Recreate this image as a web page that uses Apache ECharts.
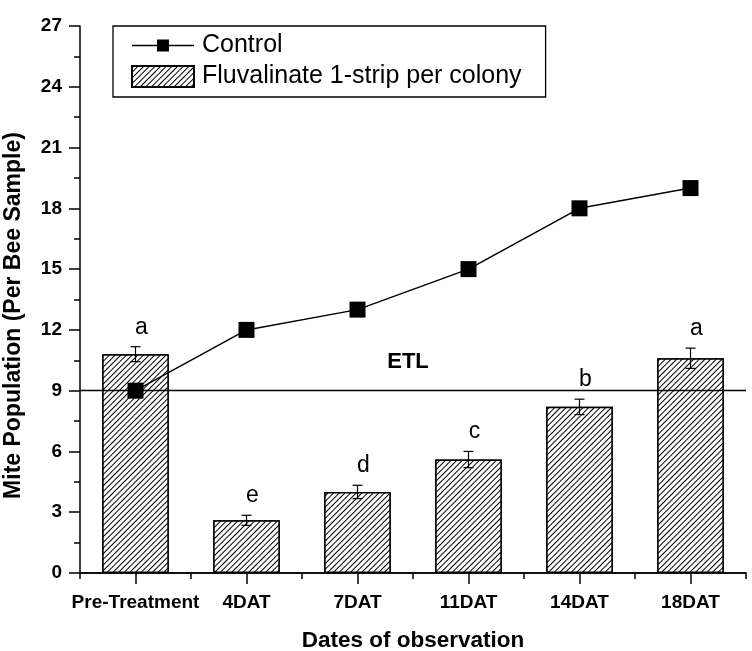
<!DOCTYPE html>
<html>
<head>
<meta charset="utf-8">
<script src="https://cdn.jsdelivr.net/npm/echarts@6/dist/echarts.min.js"></script>
<style>html,body{margin:0;padding:0;background:#fff;}#c{width:752px;height:651px;}</style>
</head>
<body>
<div id="c"></div>
<script>
const categories = ['Pre-Treatment', '4DAT', '7DAT', '11DAT', '14DAT', '18DAT'];
const controlValues = [9, 12, 13, 15, 18, 19];
const fluvalinateValues = [10.8, 2.6, 4.0, 5.6, 8.2, 10.6];
const fluvalinateErrors = [0.37, 0.25, 0.33, 0.4, 0.38, 0.5];
const significanceLetters = ['a', 'e', 'd', 'c', 'b', 'a'];
const etlValue = 9;
const yTicks = [0, 3, 6, 9, 12, 15, 18, 21, 24, 27];

const FONT = "'Liberation Sans', Arial, sans-serif";
const chart = echarts.init(document.getElementById('c'), null, {renderer: 'canvas'});

const errData = categories.map((c, i) => [i, fluvalinateValues[i], fluvalinateErrors[i]]);

const option = {
  backgroundColor: '#fff',
  animation: false,
  grid: {left: 80, right: 6, top: 26, bottom: 78, containLabel: false, outerBoundsMode: 'none'},
  legend: {
    left: 113, top: 26, orient: 'vertical',
    padding: [7, 24, 8, 18],
    itemWidth: 62, itemHeight: 21, itemGap: 6,
    symbolKeepAspect: true,
    borderColor: '#000', borderWidth: 1.3, borderRadius: 0,
    textStyle: {fontSize: 25, color: '#000', fontFamily: FONT, padding: [0, 0, 0, 3]},
    data: [
      {name: 'Control', icon: 'path://M0,5.3H25V0H37V5.3H62V6.7H37V12H25V6.7H0Z'},
      {name: 'Fluvalinate 1-strip per colony', icon: 'rect'}
    ]
  },
  xAxis: [
    {
      type: 'category', data: categories, boundaryGap: true, position: 'bottom',
      axisLine: {show: true, lineStyle: {color: '#000', width: 1.5}},
      axisTick: {show: true, alignWithLabel: false, length: 6, lineStyle: {color: '#000', width: 1.5}},
      axisLabel: {show: false},
      splitLine: {show: false}
    },
    {
      type: 'category', data: categories, boundaryGap: true, position: 'bottom',
      axisLine: {show: true, lineStyle: {color: '#000', width: 1.5}},
      axisTick: {show: true, alignWithLabel: true, length: 11, lineStyle: {color: '#000', width: 1.5}},
      axisLabel: {show: true, interval: 0, margin: 20, color: '#000', fontSize: 19, fontWeight: 'bold', fontFamily: FONT},
      splitLine: {show: false},
      name: 'Dates of observation', nameLocation: 'middle', nameGap: 56,
      nameTextStyle: {fontSize: 22.5, fontWeight: 'bold', color: '#000', fontFamily: FONT}
    }
  ],
  yAxis: {
    type: 'value', min: yTicks[0], max: yTicks[yTicks.length - 1], interval: yTicks[1] - yTicks[0],
    axisLine: {show: true, lineStyle: {color: '#000', width: 1.5}},
    axisTick: {show: true, length: 11, lineStyle: {color: '#000', width: 1.5}},
    minorTick: {show: true, splitNumber: 2, length: 6, lineStyle: {color: '#000', width: 1.5}},
    axisLabel: {margin: 18, color: '#000', fontSize: 19, fontWeight: 'bold', fontFamily: FONT},
    splitLine: {show: false},
    name: 'Mite Population (Per Bee Sample)', nameLocation: 'middle', nameGap: 55,
    nameTextStyle: {fontSize: 23, fontWeight: 'bold', color: '#000', fontFamily: FONT, padding: [0, 32, 0, 0]}
  },
  series: [
    {
      name: 'Fluvalinate 1-strip per colony', type: 'bar', xAxisIndex: 0,
      data: fluvalinateValues, barWidth: '60%',
      itemStyle: {
        color: '#fff', borderColor: '#000', borderWidth: 1.5,
        decal: {symbol: 'rect', symbolSize: 1, dashArrayX: [1, 0], dashArrayY: [1, 2.6], rotation: -Math.PI / 4, color: '#000', backgroundColor: '#fff'}
      },
      z: 2
    },
    {
      name: 'errors', type: 'custom', xAxisIndex: 0, data: errData, z: 4,
      encode: {x: 0, y: 1},
      renderItem: function (params, api) {
        const i = api.value(0), v = api.value(1), e = api.value(2);
        const top = api.coord([i, v + e]);
        const bot = api.coord([i, v - e]);
        const half = 5;
        const st = {stroke: '#000', lineWidth: 1.2};
        return {
          type: 'group',
          children: [
            {type: 'line', shape: {x1: top[0], y1: top[1], x2: bot[0], y2: bot[1]}, style: st},
            {type: 'line', shape: {x1: top[0] - half, y1: top[1], x2: top[0] + half, y2: top[1]}, style: st},
            {type: 'line', shape: {x1: bot[0] - half, y1: bot[1], x2: bot[0] + half, y2: bot[1]}, style: st},
            {type: 'text', x: top[0] + 6, y: top[1] - 8,
             style: {text: significanceLetters[params.dataIndex], fill: '#000', font: '23px ' + FONT, textAlign: 'center', textVerticalAlign: 'bottom'}}
          ]
        };
      }
    },
    {
      name: 'Control', type: 'line', xAxisIndex: 0, data: controlValues,
      symbol: 'rect', symbolSize: 16,
      lineStyle: {color: '#000', width: 1.5},
      itemStyle: {color: '#000'},
      z: 5,
      markLine: {
        silent: true, symbol: ['none', 'none'],
        lineStyle: {color: '#000', width: 1.3, type: 'solid'},
        label: {show: true, position: 'middle', formatter: 'ETL', distance: 18, offset: [-5, 0],
                fontSize: 22, fontWeight: 'bold', color: '#000', fontFamily: FONT},
        data: [{yAxis: etlValue}],
        z: 3
      }
    }
  ]
};
chart.setOption(option);
</script>
</body>
</html>
